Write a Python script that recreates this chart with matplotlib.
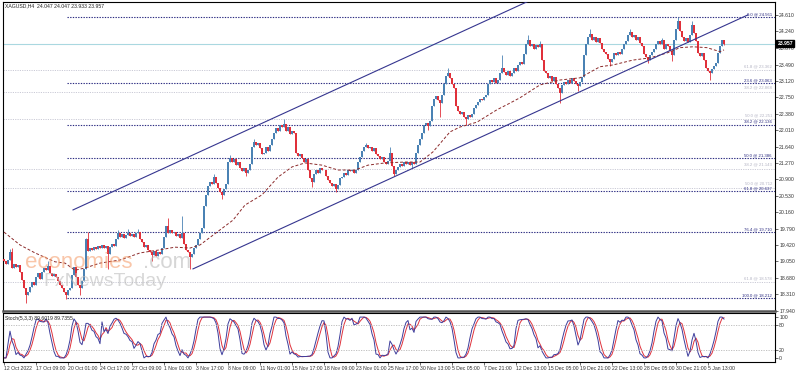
import matplotlib.pyplot as plt
import numpy as np
import pandas as pd

plt.rcParams['font.family'] = ['Liberation Sans', 'DejaVu Sans']

# XAGUSD H4 closes (one per bar)
closes = [
    19.05, 18.98, 19.08, 19.26, 18.90, 18.98, 18.93, 18.97, 18.80, 18.62,
    18.45, 18.28, 18.35, 18.47, 18.58, 18.52, 18.70, 18.78, 18.66, 18.82,
    18.90, 18.86, 18.95, 18.78, 18.72, 18.76, 18.70, 18.60, 18.52, 18.45,
    18.35, 18.30, 18.40, 18.45, 18.75, 18.92, 18.70, 18.52, 18.45, 18.60,
    18.88, 19.55, 19.28, 19.35, 19.30, 19.38, 19.33, 19.40, 19.36, 19.42,
    19.35, 19.40, 19.22, 19.38, 19.45, 19.40, 19.55, 19.68, 19.60, 19.66,
    19.58, 19.65, 19.70, 19.62, 19.66, 19.60, 19.68, 19.72, 19.55, 19.48,
    19.38, 19.42, 19.30, 19.25, 19.20, 19.28, 19.18, 19.26, 19.22, 19.35,
    19.60, 19.85, 19.70, 19.75, 19.68, 19.72, 19.62, 19.66, 19.58, 19.70,
    19.45, 19.30, 19.25, 19.15, 19.22, 19.35, 19.42, 19.55, 19.70, 19.80,
    20.30, 20.55, 20.75, 20.85, 20.80, 20.95, 20.82, 20.70, 20.62, 20.55,
    20.68, 20.80, 21.30, 21.38, 21.30, 21.35, 21.22, 21.30, 21.15, 21.08,
    21.15, 21.05, 21.12, 21.25, 21.62, 21.75, 21.68, 21.72, 21.60, 21.48,
    21.50, 21.62, 21.55, 21.68, 21.80, 21.95, 22.05, 22.00, 22.12, 22.08,
    22.15, 22.00, 22.08, 21.92, 21.98, 21.95, 21.50, 21.42, 21.48, 21.38,
    21.30, 21.35, 21.12, 20.92, 20.85, 21.02, 21.10, 21.05, 21.15, 21.12,
    21.10, 20.98, 20.88, 20.82, 20.75, 20.80, 20.68, 20.78, 20.92, 20.95,
    21.05, 21.00, 21.10, 21.08, 21.12, 21.05, 21.12, 21.30, 21.40, 21.55,
    21.62, 21.68, 21.60, 21.64, 21.55, 21.60, 21.48, 21.42, 21.35, 21.40,
    21.30, 21.25, 21.32, 21.50, 21.20, 21.02, 21.10, 21.18, 21.25, 21.20,
    21.30, 21.25, 21.30, 21.22, 21.28, 21.25, 21.50, 21.68, 21.82, 21.95,
    22.12, 22.18, 22.10, 22.22, 22.55, 22.72, 22.78, 22.70, 22.62, 22.80,
    23.05, 23.22, 23.30, 23.18, 23.05, 22.95, 22.55, 22.45, 22.38, 22.42,
    22.30, 22.25, 22.35, 22.30, 22.38, 22.50, 22.58, 22.65, 22.72, 22.68,
    22.75, 22.80, 23.05, 23.15, 23.10, 23.18, 23.08, 23.15, 23.30, 23.40,
    23.32, 23.25, 23.35, 23.22, 23.30, 23.40, 23.35, 23.48, 23.55, 23.50,
    23.72, 23.95, 24.05, 23.90, 23.95, 23.85, 23.92, 23.88, 23.95, 23.60,
    23.35, 23.30, 23.18, 23.22, 23.12, 23.20, 23.05, 22.95, 22.85, 23.02,
    23.10, 23.05, 23.15, 23.08, 23.18, 23.12, 23.05, 23.00, 23.10, 23.20,
    23.70, 23.95, 24.10, 24.18, 24.05, 24.12, 24.00, 24.08, 23.98, 23.85,
    23.78, 23.72, 23.62, 23.55, 23.62, 23.75, 23.70, 23.78, 23.72, 23.85,
    23.95, 24.02, 24.15, 24.22, 24.10, 24.15, 24.05, 24.10, 23.98, 23.90,
    23.72, 23.65, 23.60, 23.70, 23.78, 23.85, 23.95, 24.02, 23.95, 24.05,
    23.85, 23.95, 23.90, 23.80, 23.70, 24.05, 24.30, 24.48, 24.25, 24.10,
    24.02, 24.08, 24.00, 24.15, 24.38, 24.20, 24.02, 23.75, 23.68, 23.75,
    23.60, 23.42, 23.35, 23.30, 23.38, 23.45, 23.52, 23.75, 23.90, 24.047,
    23.957,
]
first_open = 19.10

# visible wicks (bar index -> price)
high_wicks = {3: 19.32, 4: 19.35, 22: 19.05, 41: 19.58, 42: 19.72, 57: 19.76,
              62: 19.78, 67: 19.77, 82: 20.02, 89: 20.07, 105: 21.02,
              113: 21.45, 125: 21.80, 140: 22.26, 181: 21.72, 193: 21.62,
              222: 23.40, 249: 23.70, 262: 24.15, 268: 24.02, 293: 24.30,
              313: 24.30, 329: 24.08, 337: 24.56, 344: 24.48}
low_wicks = {11: 18.12, 31: 18.21, 38: 18.30, 52: 18.88, 74: 19.05, 93: 18.88,
             109: 20.45, 121: 20.98, 154: 20.72, 166: 20.62, 195: 20.98,
             204: 21.15, 212: 22.02, 218: 22.30, 231: 22.13, 278: 22.62,
             287: 22.90, 303: 23.45, 322: 23.52, 334: 23.58, 353: 23.14,
             360: 23.933}

# moving average, read as (bar, price)
ma_bars = [0, 8, 15.5, 25.5, 30.5, 35.5, 40.5, 48, 58, 68, 78, 85.5, 93, 98,
           114.5, 120.5, 129, 137, 144, 150.5, 159, 167, 175.5, 182, 190.5,
           200.5, 208, 214.5, 223, 228, 236.5, 246.5, 253, 258, 268, 278, 288,
           298, 304.5, 314.5, 323, 331.5, 338, 344.5, 351.5, 358, 360]
ma_vals = [19.71, 19.42, 19.24, 19.04, 19.01, 18.85, 18.90, 19.01, 19.08, 19.24,
           19.31, 19.37, 19.35, 19.42, 19.98, 20.32, 20.55, 20.95, 21.18, 21.27,
           21.22, 21.11, 21.11, 21.22, 21.27, 21.29, 21.29, 21.52, 21.97, 22.08,
           22.19, 22.47, 22.62, 22.74, 23.03, 23.14, 23.19, 23.44, 23.48, 23.59,
           23.64, 23.75, 23.87, 23.89, 23.87, 23.78, 23.82]

# channel lines (bar, price)
chan_lower_bars = [94.5, 372]
chan_lower_vals = [18.88, 24.61]
chan_upper_bars = [34.5, 300]
chan_upper_vals = [20.21, 25.70]

# fibonacci
fib_low, fib_high = 18.212, 24.561
fib_pcts = [0.0, 23.6, 38.2, 50.0, 61.8, 76.4, 100.0]
grey_fib_pcts = [61.8, 38.2, 50.0, 38.2, 50.0, 61.8]
grey_fib_vals = [23.362, 22.868, 22.251, 21.143, 20.712, 18.578]

price_ticks = [24.61, 24.24, 23.87, 23.49, 23.12, 22.75, 22.38, 22.01, 21.64,
               21.27, 20.90, 20.53, 20.16, 19.79, 19.42, 19.05, 18.68, 18.31, 17.94]
time_labels = ["12 Oct 2022", "17 Oct 09:00", "20 Oct 01:00", "24 Oct 17:00",
               "27 Oct 09:00", "1 Nov 01:00", "3 Nov 17:00", "8 Nov 09:00",
               "11 Nov 01:00", "15 Nov 17:00", "18 Nov 09:00", "23 Nov 01:00",
               "25 Nov 17:00", "30 Nov 13:00", "5 Dec 05:00", "7 Dec 21:00",
               "12 Dec 13:00", "15 Dec 05:00", "19 Dec 21:00", "22 Dec 13:00",
               "28 Dec 05:00", "30 Dec 21:00", "5 Jan 13:00"]
last_price = 23.957

# ---- build OHLC
c = np.array(closes)
o = np.array([first_open] + closes[:-1])
h = np.maximum(o, c)
l = np.minimum(o, c)
for k, v in high_wicks.items():
    h[k] = max(h[k], v)
for k, v in low_wicks.items():
    l[k] = min(l[k], v)
x = np.arange(len(c))

# stochastic 5,3,3 from the candles
hh = pd.Series(h).rolling(5, min_periods=1).max()
ll = pd.Series(l).rolling(5, min_periods=1).min()
num = (pd.Series(c) - ll).rolling(3, min_periods=1).sum()
den = (hh - ll).rolling(3, min_periods=1).sum()
stoch_k = 100 * num / den
stoch_d = stoch_k.rolling(3, min_periods=1).mean()

W, H = 798, 372
fig = plt.figure(figsize=(W / 100, H / 100), dpi=100)
fig.patch.set_facecolor("white")

ax = fig.add_axes([3 / W, 1 - 311 / H, 772 / W, 309 / H])
axs = fig.add_axes([3 / W, 1 - 362 / H, 772 / W, 49 / H], sharex=ax)

xmin, xmax = -0.5, 385.5
ax.set_xlim(xmin, xmax)
ax.set_ylim(17.93, 24.90)

FS = 3.7
FIB_FS = 3.1

# candles
up_col, dn_col = "#4a82b4", "#e0303a"
cols = [up_col if cc >= oo else dn_col for oo, cc in zip(o, c)]
ax.vlines(x, l, h, colors=cols, lw=0.6, zorder=3)
ax.bar(x, np.maximum(np.abs(c - o), 0.015), bottom=np.minimum(o, c), width=0.95,
       color=cols, linewidth=0, zorder=4)

# moving average
ax.plot(ma_bars, ma_vals, color="#8b2a2a", lw=0.7, ls=(0, (3, 2)), zorder=5)

# channel
ax.plot(chan_lower_bars, chan_lower_vals, color="#35358f", lw=0.8, zorder=5)
ax.plot(chan_upper_bars, chan_upper_vals, color="#35358f", lw=0.8, zorder=5)

# fib levels
fib_start = 31.5
for p in fib_pcts:
    v = fib_high - (fib_high - fib_low) * p / 100
    ax.plot([fib_start, xmax], [v, v], color="#2a2a80", lw=0.8,
            ls=(0, (1.2, 1.2)), zorder=2)
    ax.text(xmax - 1.5, v + 0.015, f"{p:.1f} @ {v:.3f}", fontsize=FIB_FS,
            color="#2a2a80", ha="right", va="bottom", zorder=6)
for p, v in zip(grey_fib_pcts, grey_fib_vals):
    ax.plot([xmin, xmax], [v, v], color="#cacad6", lw=0.7,
            ls=(0, (1.2, 1.2)), zorder=1)
    ax.text(xmax - 1.5, v + 0.05, f"{p:.1f} @ {v:.3f}", fontsize=FIB_FS,
            color="#b4b4c4", ha="right", va="bottom", zorder=6)

# current price line
ax.axhline(last_price, color="#aad8e0", lw=0.8, zorder=1)

ax.yaxis.tick_right()
ax.set_yticks(price_ticks)
ax.set_yticklabels([f"{t:.3f}" for t in price_ticks])
ax.tick_params(axis="y", labelsize=FS, length=2, width=0.5, pad=1,
               colors="#333333")
ax.tick_params(axis="x", bottom=False, labelbottom=False)
ax.text(1.003, last_price, f"{last_price:.3f}", transform=ax.get_yaxis_transform(),
        fontsize=FS, color="white", va="center", ha="left", fontweight="bold",
        bbox=dict(boxstyle="square,pad=0.2", fc="black", ec="black"), zorder=10,
        clip_on=False)
for s in ["left", "top", "right"]:
    ax.spines[s].set_color("black")
    ax.spines[s].set_linewidth(0.8)
ax.spines["bottom"].set_color("#555555")
ax.spines["bottom"].set_linewidth(1.8)

# stochastic panel
axs.set_ylim(-10, 110)
axs.plot(x, stoch_d, color="#e0323c", lw=0.7)
axs.plot(x, stoch_k, color="#3d3d9c", lw=0.7)
for lv in (80, 20):
    axs.axhline(lv, color="#b8b8b8", lw=0.6, ls=(0, (1.5, 1.5)))
axs.yaxis.tick_right()
axs.set_yticks([100, 80, 20, 0])
axs.set_yticklabels(["100", "80", "20", "0"])
axs.tick_params(axis="y", labelsize=FS, length=2, width=0.5, pad=1,
                colors="#333333")
axs.set_xticks(np.arange(len(time_labels)) * 16)
axs.set_xticklabels(time_labels, ha="left")
axs.tick_params(axis="x", labelsize=FS, length=2, width=0.5, pad=1,
                colors="#333333")
for s in axs.spines.values():
    s.set_color("black")
    s.set_linewidth(0.8)
axs.text(0.003, 0.93, "Stoch(5,3,3) 89.6019 89.7355", transform=axs.transAxes,
         fontsize=FS, color="#222222", va="top", ha="left")

# header
fig.text(5 / W, 1 - 6 / H, "XAGUSD,H4  24.047 24.047 23.933 23.957", fontsize=FS,
         color="#222222", va="center", ha="left")

# watermark
fig.text(25 / W, 1 - 262 / H, "economies", fontsize=16, color="#f5a070",
         alpha=0.6, va="center", ha="left", zorder=0)
fig.text(143 / W, 1 - 262 / H, ".com", fontsize=16, color="#bbbbbb",
         alpha=0.6, va="center", ha="left", zorder=0)
fig.text(43 / W, 1 - 281 / H, "FxNewsToday", fontsize=14, color="#bdbdbd",
         alpha=0.6, va="center", ha="left", zorder=0)

plt.savefig("out.png", dpi=100)
